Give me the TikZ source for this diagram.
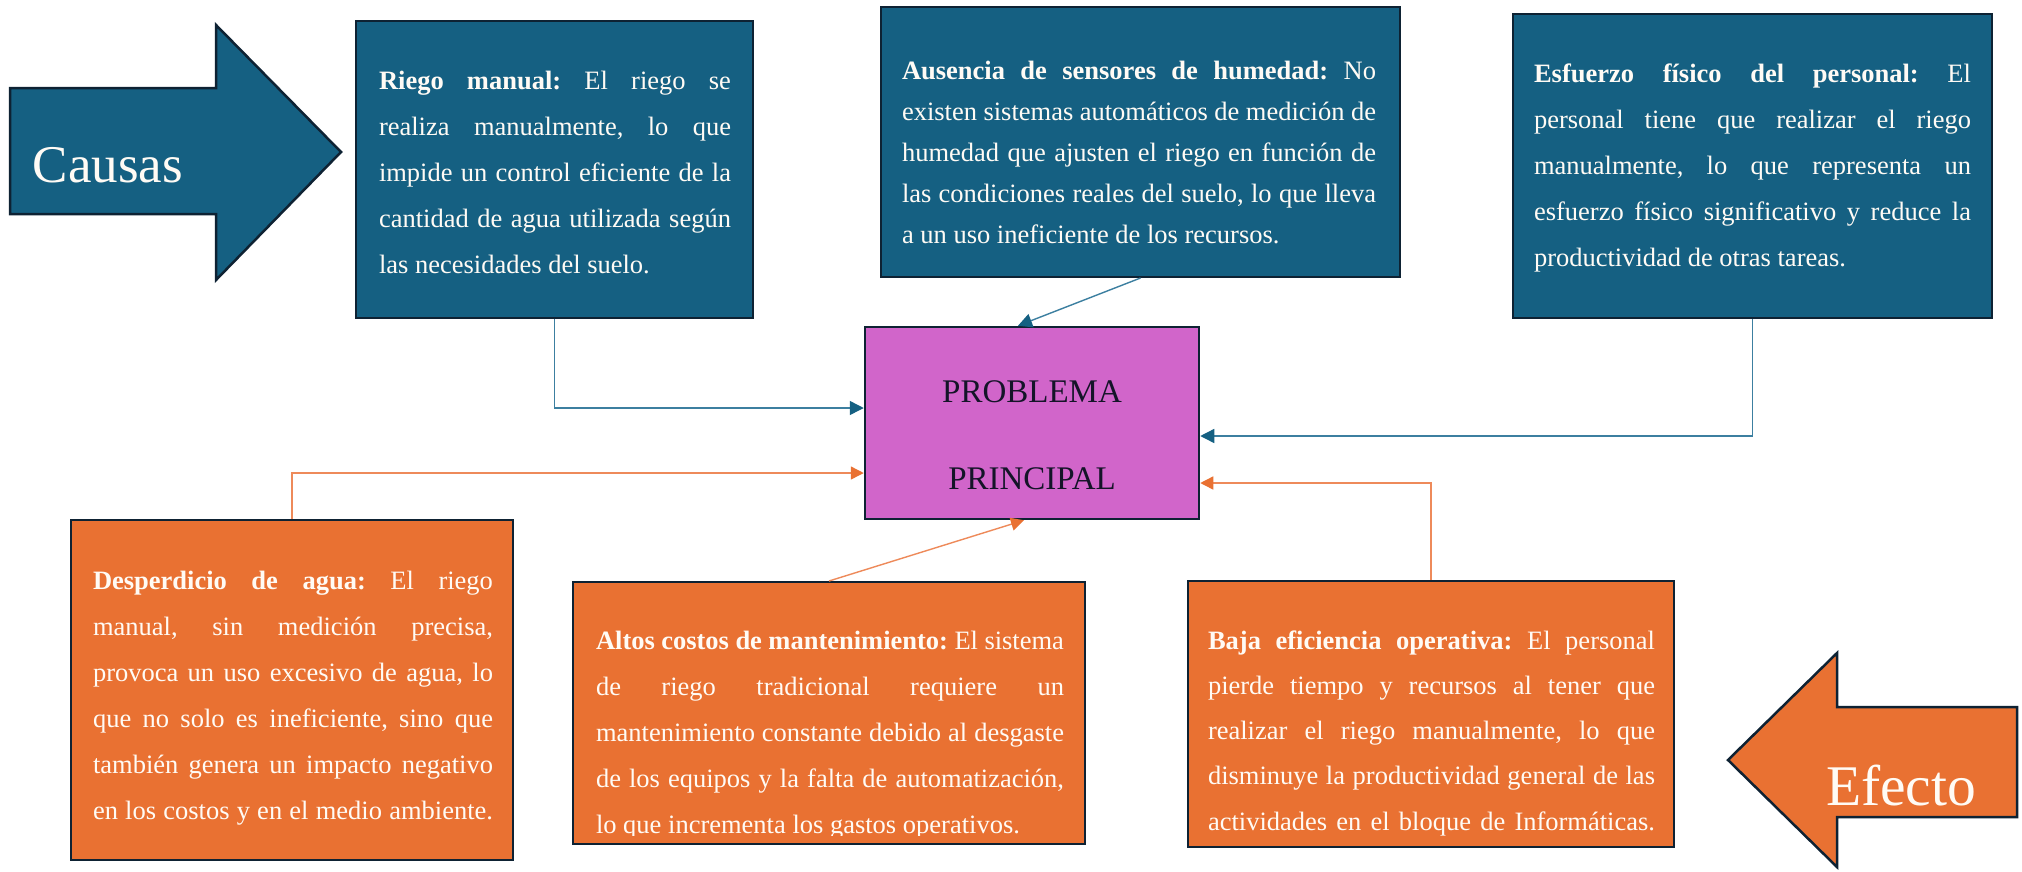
\documentclass[tikz,border=0pt]{standalone}
\usepackage{fontspec}
\setmainfont{Liberation Serif}
\usetikzlibrary{arrows.meta}
\definecolor{boxblue}{HTML}{156082}
\definecolor{boxorange}{HTML}{E97132}
\definecolor{probfill}{HTML}{D165CA}
\definecolor{edgec}{HTML}{0E2233}
\definecolor{lineblue}{HTML}{3C7FA0}
\definecolor{tipblue}{HTML}{156082}
\definecolor{lineorange}{HTML}{EE8A5A}
\definecolor{tiporange}{HTML}{E97132}
\definecolor{probtext}{HTML}{141428}
\definecolor{textwhite}{HTML}{FFFBF5}
\frenchspacing
\newcommand{\jl}[1]{\hbox to \linewidth{#1}}
\newcommand{\lastl}[1]{\hbox{#1}}
\newcommand{\btext}[3]{\parbox[t]{#1}{\frenchspacing\fontsize{26.5pt}{#2}\selectfont #3}}
\begin{document}
\begin{tikzpicture}[x=1pt,y=-1pt,
  bluebox/.style={draw=edgec, line width=2pt, fill=boxblue, inner sep=0pt, rectangle},
  orangebox/.style={draw=edgec, line width=2pt, fill=boxorange, inner sep=0pt, rectangle},
  probbox/.style={draw=edgec, line width=2.5pt, fill=probfill, inner sep=0pt, rectangle},
  bodytext/.style={inner sep=0pt, outer sep=0pt, anchor=base west, text=textwhite},
  bluecon/.style={draw=lineblue, line width=1.4pt, -{Triangle[length=14pt,width=14pt,color=tipblue]}},
  orangecon/.style={draw=lineorange, line width=1.4pt, -{Triangle[length=13pt,width=13pt,color=tiporange]}},
  bigarrow/.style={draw=edgec, line width=2.5pt, line join=miter}
]
\useasboundingbox (0,0) rectangle (2022,871);
\fill[white] (0,0) rectangle (2022,871);

% big arrows
\draw[bigarrow, fill=boxblue] (10,88) -- (216,88) -- (216,25) -- (341,152) -- (216,280) -- (216,214) -- (10,214) -- cycle;
\node[text=textwhite, inner sep=0pt, anchor=base, font=\fontsize{53pt}{60pt}\selectfont] (causas) at (108,182) {Causas};
\draw[bigarrow, fill=boxorange] (2017,707) -- (1837,707) -- (1837,653) -- (1728,760) -- (1837,867) -- (1837,817) -- (2017,817) -- cycle;
\node[text=textwhite, inner sep=0pt, anchor=base, font=\fontsize{57.5pt}{64pt}\selectfont] (efecto) at (1901,805) {Efecto};

% boxes
\node[bluebox, minimum width=397pt, minimum height=297pt] (riego) at (554.5,169.5) {};
\node[bluebox, minimum width=519pt, minimum height=270pt] (aus) at (1140.5,142) {};
\node[bluebox, minimum width=479pt, minimum height=304pt] (esf) at (1752.5,166) {};
\node[orangebox, minimum width=442pt, minimum height=340pt] (desp) at (292,690) {};
\node[orangebox, minimum width=512pt, minimum height=262pt] (altos) at (829,713) {};
\node[orangebox, minimum width=486pt, minimum height=266pt] (baja) at (1431,714) {};
\node[probbox, minimum width=334pt, minimum height=192pt] (prob) at (1032,423) {};

\node[text=probtext, inner sep=0pt, anchor=base, font=\fontsize{33pt}{40pt}\selectfont] (probA) at (1032,402) {PROBLEMA};
\node[text=probtext, inner sep=0pt, anchor=base, font=\fontsize{33pt}{40pt}\selectfont] (probB) at (1032,489) {PRINCIPAL};

% texts
\node[bodytext] (riegoT) at (379,89) {\btext{352pt}{46.2pt}{%
\jl{\textbf{Riego manual:} El riego se}
\jl{realiza manualmente, lo que}
\jl{impide un control eficiente de la}
\jl{cantidad de agua utilizada según}
\lastl{las necesidades del suelo.}}};

\node[bodytext] (ausT) at (902,79) {\btext{474pt}{41.2pt}{%
\jl{\textbf{Ausencia de sensores de humedad:} No}
\jl{existen sistemas automáticos de medición de}
\jl{humedad que ajusten el riego en función de}
\jl{las condiciones reales del suelo, lo que lleva}
\lastl{a un uso ineficiente de los recursos.}}};

\node[bodytext] (esfT) at (1534,82) {\btext{437pt}{46.2pt}{%
\jl{\textbf{Esfuerzo físico del personal:} El}
\jl{personal tiene que realizar el riego}
\jl{manualmente, lo que representa un}
\jl{esfuerzo físico significativo y reduce la}
\lastl{productividad de otras tareas.}}};

\node[bodytext] (despT) at (93,589) {\btext{400pt}{46pt}{%
\jl{\textbf{Desperdicio de agua:} El riego}
\jl{manual, sin medición precisa,}
\jl{provoca un uso excesivo de agua, lo}
\jl{que no solo es ineficiente, sino que}
\jl{también genera un impacto negativo}
\jl{en los costos y en el medio ambiente.}}};

\begin{scope}
\clip (573,582) rectangle (1085,835);
\node[bodytext] (altosT) at (596,649) {\btext{468pt}{46pt}{%
\jl{\textbf{Altos costos de mantenimiento:} El sistema}
\jl{de riego tradicional requiere un}
\jl{mantenimiento constante debido al desgaste}
\jl{de los equipos y la falta de automatización,}
\lastl{lo que incrementa los gastos operativos.}}};
\end{scope}

\node[bodytext] (bajaT) at (1208,649) {\btext{447pt}{45.3pt}{%
\jl{\textbf{Baja eficiencia operativa:} El personal}
\jl{pierde tiempo y recursos al tener que}
\jl{realizar el riego manualmente, lo que}
\jl{disminuye la productividad general de las}
\jl{actividades en el bloque de Informáticas.}}};

% connectors
\draw[bluecon] (riego.south) |- ([yshift=15pt]prob.west);
\draw[bluecon] (aus.south) -- ([xshift=-14pt]prob.north);
\draw[bluecon] (esf.south) |- ([yshift=-13pt]prob.east);
\draw[orangecon] (desp.north) |- ([yshift=-50pt]prob.west);
\draw[orangecon] (altos.north) -- ([xshift=-8pt]prob.south);
\draw[orangecon] (baja.north) |- ([yshift=-60pt]prob.east);
\end{tikzpicture}
\end{document}
